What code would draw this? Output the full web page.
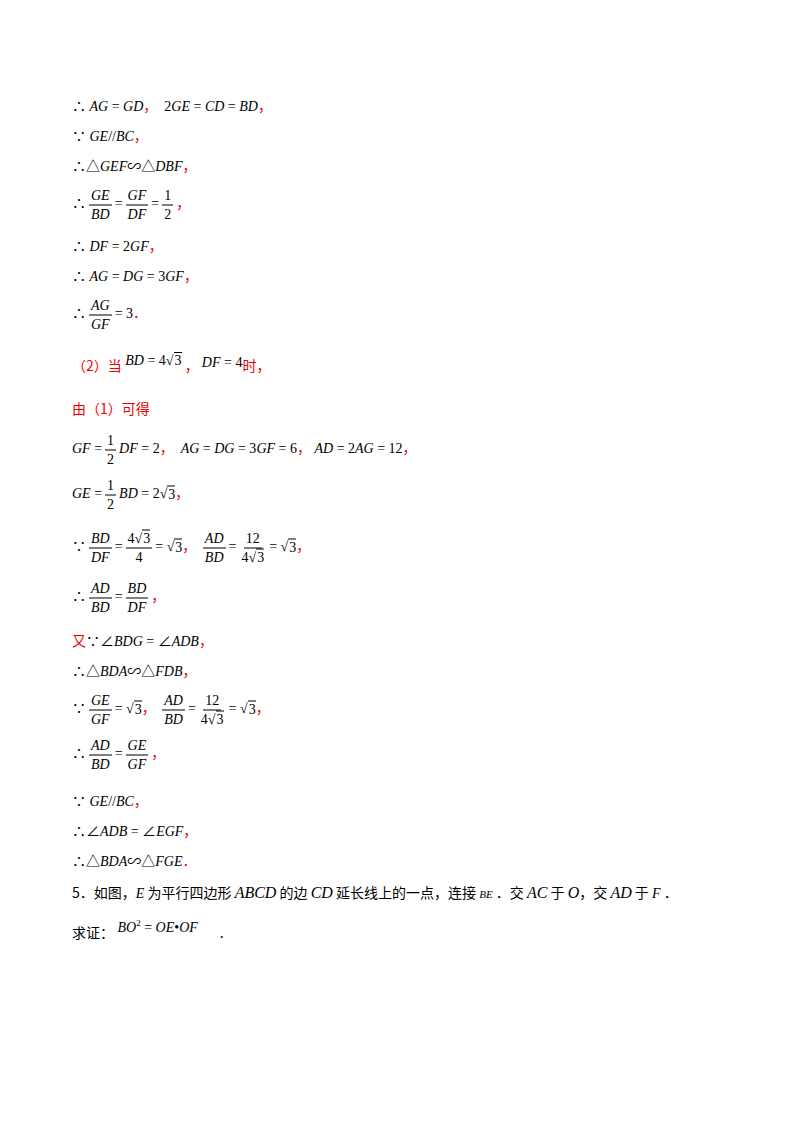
<!DOCTYPE html>
<html lang="zh-CN">
<head>
<meta charset="UTF-8">
<script src="https://cdn.jsdelivr.net/npm/chart.js"></script>
<style>
  body { margin:0; width:800px; height:1132px; background:#fff; position:relative; font-family:"Liberation Serif","Noto Sans CJK SC",serif; color:#000; }
  .l { position:absolute; left:72px; font-size:14px; white-space:pre; transform:translateY(-50%); }
  i { font-style:italic; }
  .r { color:#e00; font-family:"Noto Sans CJK SC",sans-serif; }
  .cj { font-family:"Noto Sans CJK SC",sans-serif; }
  .f { display:inline-flex; flex-direction:column; align-items:center; margin:0 3px; vertical-align:middle; }
  .f > :first-child { border-bottom:1px solid #000; padding:0 2px 1px; }
  .f > :last-child { padding:1px 2px 0; }
  .sq { border-top:1px solid #000; padding-left:1px; }
</style>
</head>
<body>
<div class="l" style="top:105px">∴ <i>AG</i> = <i>GD</i><span class="r">，</span>  2<i>GE</i> = <i>CD</i> = <i>BD</i><span class="r">，</span></div>
<div class="l" style="top:135px">∵ <i>GE</i>//<i>BC</i><span class="r">，</span></div>
<div class="l" style="top:165px">∴△<i>GEF</i>∽△<i>DBF</i><span class="r">，</span></div>
<div class="l" style="top:205px">∴<span class="f"><i>GE</i><i>BD</i></span>=<span class="f"><i>GF</i><i>DF</i></span>=<span class="f"><span>1</span><span>2</span></span><span class="r">，</span></div>
<div class="l" style="top:245px">∴ <i>DF</i> = 2<i>GF</i><span class="r">，</span></div>
<div class="l" style="top:275px">∴ <i>AG</i> = <i>DG</i> = 3<i>GF</i><span class="r">，</span></div>
<div class="l" style="top:315px">∴<span class="f"><i>AG</i><i>GF</i></span>= 3<span class="r">．</span></div>
<div class="l" style="top:365px"><span class="r">（2）当</span><span style="position:relative;top:-6px"> <i>BD</i> = 4√<span class="sq">3</span></span><span class="r"> ， </span><span style="position:relative;top:-4px"><i>DF</i> = 4</span><span class="r">时，</span></div>
<div class="l" style="top:408px"><span class="r">由（1）可得</span></div>
<div class="l" style="top:450px"><i>GF</i> =<span class="f"><span>1</span><span>2</span></span><i>DF</i> = 2<span class="r">，</span>  <i>AG</i> = <i>DG</i> = 3<i>GF</i> = 6<span class="r">，</span> <i>AD</i> = 2<i>AG</i> = 12<span class="r">，</span></div>
<div class="l" style="top:495px"><i>GE</i> =<span class="f"><span>1</span><span>2</span></span><i>BD</i> = 2√<span class="sq">3</span><span class="r">，</span></div>
<div class="l" style="top:548px">∵<span class="f"><i>BD</i><i>DF</i></span>=<span class="f"><span>4√<span class="sq">3</span></span><span>4</span></span>= √<span class="sq">3</span><span class="r">，</span> <span class="f"><i>AD</i><i>BD</i></span>=<span class="f"><span>12</span><span>4√<span class="sq">3</span></span></span>= √<span class="sq">3</span><span class="r">，</span></div>
<div class="l" style="top:598px">∴<span class="f"><i>AD</i><i>BD</i></span>=<span class="f"><i>BD</i><i>DF</i></span><span class="r">，</span></div>
<div class="l" style="top:640px"><span class="r">又</span>∵∠<i>BDG</i> = ∠<i>ADB</i><span class="r">，</span></div>
<div class="l" style="top:670px">∴△<i>BDA</i>∽△<i>FDB</i><span class="r">，</span></div>
<div class="l" style="top:710px">∵<span class="f"><i>GE</i><i>GF</i></span>= √<span class="sq">3</span><span class="r">，</span> <span class="f"><i>AD</i><i>BD</i></span>=<span class="f"><span>12</span><span>4√<span class="sq">3</span></span></span>= √<span class="sq">3</span><span class="r">，</span></div>
<div class="l" style="top:755px">∴<span class="f"><i>AD</i><i>BD</i></span>=<span class="f"><i>GE</i><i>GF</i></span><span class="r">，</span></div>
<div class="l" style="top:800px">∵ <i>GE</i>//<i>BC</i><span class="r">，</span></div>
<div class="l" style="top:830px">∴∠<i>ADB</i> = ∠<i>EGF</i><span class="r">，</span></div>
<div class="l" style="top:860px">∴△<i>BDA</i>∽△<i>FGE</i><span class="r">．</span></div>
<div class="l cj" style="top:892px">5．如图，<i style="font-family:'Liberation Serif'">E</i> 为平行四边形 <i style="font-family:'Liberation Serif';font-size:16px">ABCD</i> 的边 <i style="font-family:'Liberation Serif';font-size:16px">CD</i> 延长线上的一点，连接 <i style="font-family:'Liberation Serif';font-size:11px">BE</i> ．交 <i style="font-family:'Liberation Serif';font-size:16px">AC</i> 于 <i style="font-family:'Liberation Serif';font-size:16px">O</i>，交 <i style="font-family:'Liberation Serif';font-size:16px">AD</i> 于 <i style="font-family:'Liberation Serif'">F</i> ．</div>
<div class="l cj" style="top:932px">求证：<span style="font-family:'Liberation Serif';position:relative;top:-6px"> <i>BO</i><sup style="font-size:9px">2</sup> = <i>OE</i>•<i>OF</i></span><span style="margin-left:22px">.</span></div>
</body>
</html>
